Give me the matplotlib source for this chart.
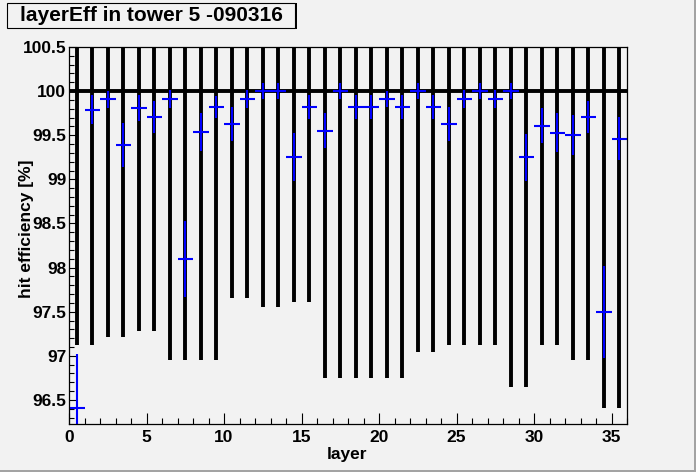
import matplotlib
matplotlib.use("Agg")
import matplotlib.pyplot as plt
from matplotlib.patches import Rectangle
from matplotlib.ticker import MultipleLocator
import numpy as np

plt.rcParams['font.family'] = ['Liberation Sans', 'DejaVu Sans']
plt.rcParams['font.weight'] = 'bold'

# layer index 0..35, drawn at bin centres
layers = np.arange(36)

# blue: measured efficiency per layer and its error
eff = [96.41, 99.79, 99.905, 99.39, 99.81, 99.71, 99.91, 98.10, 99.54, 99.82,
       99.625, 99.91, 100.0, 100.0, 99.25, 99.82, 99.55, 100.0, 99.82, 99.82,
       99.915, 99.82, 100.0, 99.82, 99.625, 99.91, 100.0, 99.91, 100.0, 99.25,
       99.61, 99.53, 99.50, 99.71, 97.50, 99.46]
eff_err = [0.61, 0.165, 0.10, 0.25, 0.145, 0.18, 0.10, 0.43, 0.215, 0.13,
           0.19, 0.10, 0.095, 0.095, 0.27, 0.14, 0.20, 0.095, 0.135, 0.135,
           0.09, 0.135, 0.095, 0.135, 0.19, 0.10, 0.095, 0.10, 0.095, 0.265,
           0.20, 0.22, 0.225, 0.18, 0.52, 0.245]

# black: reference at 100 with its (big) errors
ref = [100.0] * 36
ref_err = [2.875, 2.875, 2.79, 2.79, 2.72, 2.72, 3.05, 3.05, 3.05, 3.05,
           2.34, 2.34, 2.45, 2.45, 2.39, 2.39, 3.25, 3.25, 3.25, 3.25,
           3.25, 3.25, 2.96, 2.96, 2.875, 2.875, 2.875, 2.875, 3.35, 3.35,
           2.875, 2.875, 3.05, 3.05, 3.59, 3.59]

bg = '#f2f2f2'
W, H = 696, 472
fig = plt.figure(figsize=(W / 100, H / 100), dpi=100, facecolor=bg)
ax = fig.add_axes([69 / W, 1 - 424 / H, (627 - 69) / W, (424 - 47) / H])
ax.set_facecolor(bg)

x = layers + 0.5
ax.errorbar(x, ref, xerr=0.5, yerr=ref_err, fmt='none', ecolor='black',
            elinewidth=2.8, capsize=0)
ax.errorbar(x, eff, xerr=0.5, yerr=eff_err, fmt='none', ecolor='blue',
            elinewidth=1.5, capsize=0)

ax.set_xlim(0, 36)
ax.set_ylim(96.227, 100.5)

ax.xaxis.set_major_locator(MultipleLocator(5))
ax.xaxis.set_minor_locator(MultipleLocator(1))
ax.yaxis.set_major_locator(MultipleLocator(0.5))
ax.yaxis.set_minor_locator(MultipleLocator(0.1))
ax.yaxis.set_major_formatter(plt.FuncFormatter(lambda v, p: ('%g' % v)))

ax.tick_params(axis='x', which='major', direction='in', length=8, width=0.8,
               pad=4, labelsize=12.5, top=False)
ax.tick_params(axis='x', which='minor', direction='in', length=4, width=0.8, top=False)
ax.tick_params(axis='y', which='major', direction='in', length=6, width=0.8,
               pad=2, labelsize=12.5, right=False)
ax.tick_params(axis='y', which='minor', direction='in', length=3.6, width=0.8, right=False)
for s in ax.spines.values():
    s.set_linewidth(0.9)
    s.set_color('black')

fig.text(347.5 / W, 1 - 455 / H, 'layer', ha='center', va='center',
         fontsize=12.5, fontweight='bold')
fig.text(27 / W, 1 - 229 / H, 'hit efficiency [%]', ha='center', va='center',
         rotation=90, fontsize=12.5, fontweight='bold')

# title box
fig.patches.append(Rectangle((8 / W, 1 - 29 / H), 289 / W, 26 / H,
                             transform=fig.transFigure, facecolor='black',
                             edgecolor='none'))
fig.patches.append(Rectangle((7 / W, 1 - 28 / H), 288 / W, 25 / H,
                             transform=fig.transFigure, facecolor=bg,
                             edgecolor='black', linewidth=0.8))
fig.text(151 / W, 1 - 15.5 / H, 'layerEff in tower 5 -090316', ha='center',
         va='center', fontsize=15, fontweight='bold')

# canvas bevel on right and bottom
fig.patches.append(Rectangle((1 - 2.5 / W, 0), 2.5 / W, 1, transform=fig.transFigure,
                             facecolor='#a3a3a3', edgecolor='none'))
fig.patches.append(Rectangle((0, 0), 1, 2.5 / H, transform=fig.transFigure,
                             facecolor='#a3a3a3', edgecolor='none'))

fig.savefig('out.png', dpi=100, facecolor=bg)
